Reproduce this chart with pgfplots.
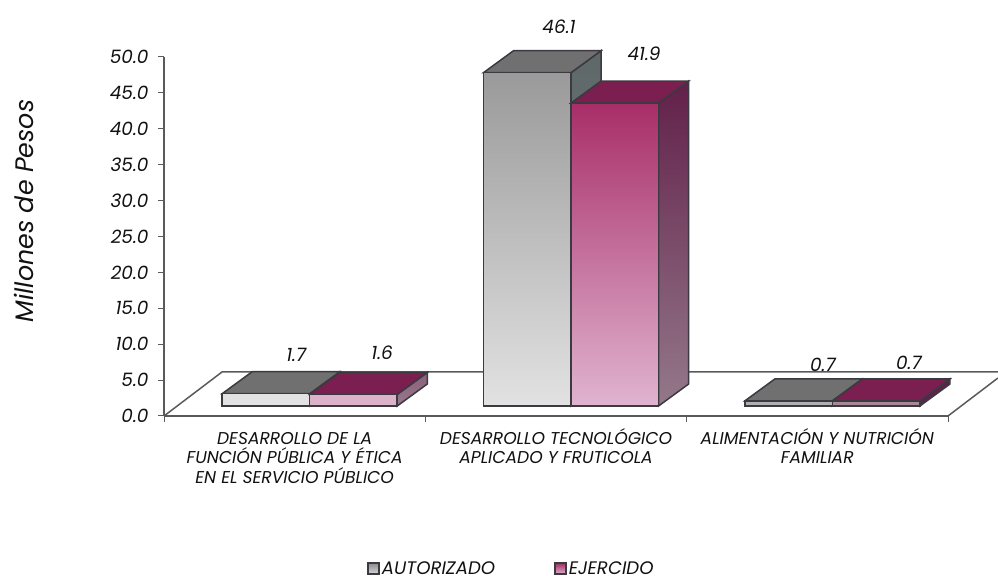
\documentclass[border=0pt]{standalone}
\usepackage{pgfplots}
\pgfplotsset{compat=1.18}
\usepackage{fontspec}
\setmainfont{Poppins}
\definecolor{edge}{HTML}{3A3A40}
\definecolor{axisc}{HTML}{5A5A5A}
\definecolor{txt}{HTML}{111111}
\definecolor{gtop}{HTML}{707070}
\definecolor{rtop}{HTML}{7A1F50}
\definecolor{gshort}{HTML}{E2E2E2}
\definecolor{rshort}{HTML}{DBB2CA}
\definecolor{gside}{HTML}{6A6A6A}
\definecolor{rsidea}{HTML}{8A6078}
\definecolor{rsideb}{HTML}{98788C}
\definecolor{gtall}{HTML}{9A9A9A}
\definecolor{rtall}{HTML}{A82E68}
\definecolor{rpale}{HTML}{E0B4D0}
\definecolor{gsidea}{HTML}{5E6868}
\definecolor{gsideb}{HTML}{7A7F7F}
\definecolor{rsidec}{HTML}{62204A}
\definecolor{rsided}{HTML}{94788A}
\definecolor{gthin}{HTML}{B0B0B0}
\definecolor{rthin}{HTML}{A88898}
\definecolor{lga}{HTML}{8A8A8A}
\definecolor{lgb}{HTML}{D8D8D8}
\definecolor{lra}{HTML}{A03060}
\definecolor{lrb}{HTML}{E0B0D0}
% #1 centre x, #2 shift sign (-1 gray, +1 red), #3 value, #4 front top, #5 front bottom,
% #6 top face, #7 side top, #8 side bottom, #9 label shifts
\newcommand{\barthree}[9]{%
  \pgfmathsetmacro{\xl}{#1+(#2-1)*0.1675}%
  \pgfmathsetmacro{\xr}{#1+(#2+1)*0.1675}%
  \pgfmathsetmacro{\xlb}{\xl+0.115}%
  \pgfmathsetmacro{\xrb}{\xr+0.115}%
  \pgfmathsetmacro{\vb}{#3+3.04}%
  \addplot[forget plot,draw=edge,line width=1.5bp,top color=#7,bottom color=#8]
    coordinates {(\xr,0) (\xrb,3.04) (\xrb,\vb) (\xr,#3)} --cycle;
  \addplot[forget plot,draw=edge,line width=1.5bp,fill=#6]
    coordinates {(\xl,#3) (\xr,#3) (\xrb,\vb) (\xlb,\vb)} --cycle;
  \addplot[forget plot,ybar,bar width=87.5bp,bar shift={#2*43.75bp},draw=edge,line width=1.5bp,
    top color=#4,bottom color=#5,
    nodes near coords,
    every node near coord/.style={anchor=center,text=txt,font=\fontsize{18.5}{20}\selectfont\itshape,#9}]
    coordinates {(#1,#3)};
}
\begin{document}
\begin{tikzpicture}
\useasboundingbox (0,0) rectangle (998bp,576bp);
\begin{axis}[
  at={(164bp,160bp)},anchor=south west,
  scale only axis,width=784bp,height=359bp,
  xmin=0,xmax=3,ymin=0,ymax=50,
  clip=false,
  axis lines*=left,
  axis line style={-,draw=axisc,line width=1.6bp},
  ytick={0,5,...,50},
  xtick={0.5,1.5,2.5},
  minor xtick={0,1,2,3},
  xticklabels={{\vphantom{Ó}DESARROLLO DE LA\\FUNCIÓN PÚBLICA Y ÉTICA\\EN EL SERVICIO PÚBLICO},
    {DESARROLLO TECNOLÓGICO\\APLICADO Y FRUTICOLA},
    {ALIMENTACIÓN Y NUTRICIÓN\\FAMILIAR}},
  tick align=outside,
  major tick length=6bp,
  minor tick length=6bp,
  tick style={draw=axisc,line width=1bp},
  major x tick style={draw=none},
  /pgf/number format/assume math mode=true,
  /pgf/number format/fixed,/pgf/number format/fixed zerofill,/pgf/number format/precision=1,
  yticklabel style={font=\fontsize{18.5}{20}\selectfont\itshape,text=txt,xshift=-6bp},
  xticklabel style={font=\fontsize{17.2}{19.5}\selectfont\itshape,text=txt,align=center,anchor=north,yshift=-3bp},
  ylabel={Millones de Pesos},
  ylabel style={at={(axis description cs:-0.1786,0.571)},anchor=center,font=\fontsize{25.4}{28}\selectfont\itshape,text=txt},
]
\addplot[forget plot,draw=axisc,line width=1.5bp] coordinates {(0,0) (0.222,6.13) (3.191,6.13)};
\addplot[forget plot,draw=axisc,line width=1.5bp] coordinates {(3,0) (3.191,5.29)};
\end{axis}
\begin{axis}[
  at={(179bp,160bp)},anchor=south west,
  scale only axis,width=784bp,height=359bp,
  xmin=-0.5,xmax=2.5,ymin=-1.383,ymax=48.27,
  clip=false,
  hide axis,
  /pgf/number format/assume math mode=true,
  /pgf/number format/fixed,/pgf/number format/fixed zerofill,/pgf/number format/precision=1,
  legend columns=2,
  legend style={at={(0.424,-0.425)},anchor=center,draw=none,fill=none,
    font=\fontsize{18.2}{20}\selectfont\itshape,text=txt,
    /tikz/every even column/.style={column sep=57bp},inner sep=0pt},
  legend image code/.code={\draw[#1,draw=edge,line width=1.7bp] (0bp,-5.5bp) rectangle (11bp,5.5bp);},
]
\barthree{0}{-1}{1.7}{gshort}{gshort}{gtop}{gside}{gside}{xshift=-13.5bp,yshift=39bp}
\barthree{0}{1}{1.6}{rshort}{rshort}{rtop}{rsidea}{rsideb}{xshift=72.5bp,yshift=41.5bp}
\barthree{1}{-1}{46.1}{gtall}{gshort}{gtop}{gsidea}{gsideb}{xshift=-12bp,yshift=45.7bp}
\barthree{1}{1}{41.9}{rtall}{rpale}{rtop}{rsidec}{rsided}{xshift=73bp,yshift=49bp}
\barthree{2}{-1}{0.7}{gthin}{gthin}{gtop}{gside}{gside}{xshift=-9.5bp,yshift=36bp}
\barthree{2}{1}{0.7}{rthin}{rthin}{rtop}{rsidec}{rsidec}{xshift=76.5bp,yshift=38bp}
\addlegendimage{top color=lga,bottom color=lgb}
\addlegendentry{AUTORIZADO}
\addlegendimage{top color=lra,bottom color=lrb}
\addlegendentry{EJERCIDO}
\end{axis}
\end{tikzpicture}
\end{document}
